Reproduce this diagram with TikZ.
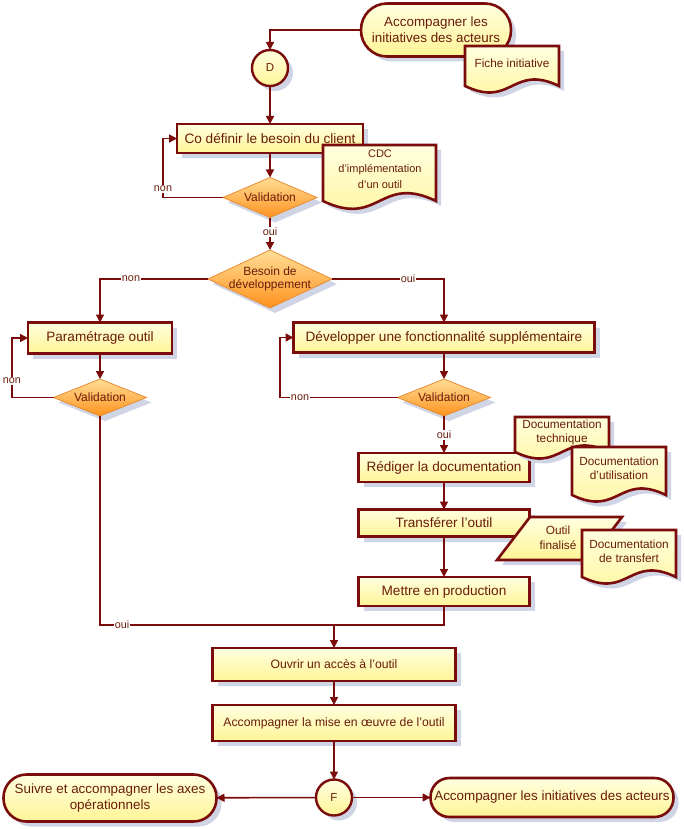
\documentclass[tikz,border=0pt]{standalone}
\usepackage{fontspec}
\setmainfont{Liberation Sans}
\usetikzlibrary{arrows.meta,shadows,shapes.geometric}
\definecolor{dred}{RGB}{122,12,12}
\definecolor{txt}{RGB}{105,28,10}
\definecolor{ytop}{RGB}{255,255,224}
\definecolor{ybot}{RGB}{255,244,150}
\definecolor{otop}{RGB}{255,222,150}
\definecolor{obot}{RGB}{255,146,30}
\definecolor{oline}{RGB}{232,140,50}
\definecolor{shad}{RGB}{208,213,230}
\newcommand\docshape[4]{%
  \path[docsty] (#1,#2) -- (#3,#2) -- (#3,#4) .. controls ({(#1+#3)/2},{#4-0.24*(#3-#1)}) and ({(#1+#3)/2},{#4+0.24*(#3-#1)}) .. (#1,#4) -- cycle;}
\tikzset{
  base/.style={text=txt, inner sep=0pt, outer sep=0pt},
  shd/.style={drop shadow={shadow xshift=5pt,shadow yshift=-5pt,fill=shad,opacity=1}},
  proc/.style={base, rectangle, draw=dred, line width=2.6pt, top color=ytop, bottom color=ybot, shd, font=\fontsize{13.6}{15}\selectfont},
  procs/.style={proc, font=\fontsize{12.2}{14}\selectfont},
  term/.style={proc, align=center, font=\fontsize{13.4}{16}\selectfont},
  conn/.style={proc, circle, line width=2.4pt, font=\fontsize{11.5}{13}\selectfont},
  dec/.style={base, diamond, draw=oline, line width=0.8pt, top color=otop, bottom color=obot, shd},
  dectxt/.style={base, align=center, font=\fontsize{12}{13.5}\selectfont},
  docsty/.style={draw=dred, line width=2.6pt, top color=ytop, bottom color=ybot, shd, line join=miter},
  doctxt/.style={base, align=center, font=\fontsize{11.8}{14}\selectfont},
  lnk/.style={draw=dred, line width=1.6pt},
  arr/.style={lnk, -{Triangle[length=8pt,width=8pt]}},
  lab/.style={base, fill=white, inner sep=1pt, font=\fontsize{10.8}{12}\selectfont},
}
\begin{document}
\begin{tikzpicture}[x=1pt,y=-1pt]
\fill[white] (0,0) rectangle (684,829);
\useasboundingbox (0,0) rectangle (684,829);

% top
\node[term, minimum width=150, minimum height=53, rounded corners=26pt] (T1) at (436,30) {Accompagner les\\initiatives des acteurs};
\docshape{465}{46}{559}{86}
\node[doctxt] (fiche) at (512,63) {Fiche initiative};
\node[conn, minimum size=36] (D) at (270,68) {D};
\node[proc, minimum width=186, minimum height=29] (B1) at (270,138.5) {Co définir le besoin du client};
\docshape{323}{145}{436}{201}
\node[doctxt, font=\fontsize{11}{15.5}\selectfont] (cdc) at (380,169) {CDC\\d’implémentation\\d’un outil};
\node[dec, minimum width=94, minimum height=40, label={[dectxt]center:Validation}] (V1) at (270,197.5) {};
\node[dec, minimum width=124, minimum height=58, label={[dectxt]center:{Besoin de\\développement}}] (V2) at (270,279) {};

% left branch
\node[proc, minimum width=144, minimum height=31] (P1) at (100,338) {Paramétrage outil};
\node[dec, minimum width=93, minimum height=37, label={[dectxt]center:Validation}] (V3) at (100,397.5) {};

% right branch
\node[proc, minimum width=301, minimum height=30] (P2) at (444,337.5) {Développer une fonctionnalité supplémentaire};
\node[dec, minimum width=93, minimum height=37, label={[dectxt]center:Validation}] (V4) at (444,397.5) {};
\node[proc, minimum width=171, minimum height=29] (R1) at (444,467.5) {Rédiger la documentation};
\docshape{515}{417}{609}{452}
\node[doctxt] (dtech) at (562,432) {Documentation\\technique};
\docshape{572}{447}{666}{495}
\node[doctxt] (dutil) at (619,468.5) {Documentation\\d’utilisation};
\node[proc, minimum width=171, minimum height=27] (R2) at (444,523) {Transférer l’outil};
\path[docsty] (530,517) -- (622,517) -- (589,560) -- (497,560) -- cycle;
\node[doctxt, font=\fontsize{11.8}{15}\selectfont] (ofin) at (558,537.5) {Outil\\finalisé};
\docshape{582}{530}{676}{577}
\node[doctxt] (dtrans) at (629,551.5) {Documentation\\de transfert};
\node[proc, minimum width=171, minimum height=29] (R3) at (444,591.5) {Mettre en production};

% bottom
\node[procs, minimum width=243, minimum height=33] (O1) at (334,664.5) {Ouvrir un accès à l’outil};
\node[procs, minimum width=243, minimum height=36] (A1) at (334,723) {Accompagner la mise en œuvre de l’outil};
\node[conn, minimum size=36] (F) at (334,797.5) {F};
\node[term, minimum width=213, minimum height=47, rounded corners=23pt] (Lt) at (110,798) {Suivre et accompagner les axes\\opérationnels};
\node[term, minimum width=243, minimum height=39, rounded corners=19pt] (Rt) at (552,797.5) {Accompagner les initiatives des acteurs};

% connectors
\coordinate (n1) at (163,0);
\coordinate (n3) at (12,0);
\coordinate (n4) at (280,0);
\coordinate (m) at (334,625);
\draw[arr] (T1.west) -| (D.north);
\draw[arr] (D) -- (B1);
\draw[arr] (B1) -- (V1);
\draw[arr] (V1.west) -- (V1.west -| n1) |- (B1.west);
\draw[arr] (V1.south) -- (V2.north);
\draw[arr] (V2.west) -| (P1.north);
\draw[arr] (V2.east) -| (P2.north);
\draw[arr] (P1) -- (V3);
\draw[arr] (V3.west) -- (V3.west -| n3) |- (P1.west);
\draw[arr] (P2) -- (V4);
\draw[arr] (V4.west) -- (V4.west -| n4) |- (P2.west);
\draw[arr] (V4.south) -- (R1.north);
\draw[arr] (R1) -- (R2);
\draw[arr] (R2) -- (R3);
\draw[lnk] (V3.south) |- (m);
\draw[lnk] (R3.south) |- (m);
\draw[arr] (m) -- (O1.north);
\draw[arr] (O1) -- (A1);
\draw[arr] (A1) -- (F);
\draw[arr] (F) -- (Lt);
\draw[arr] (F) -- (Rt);

% labels
\node[lab] (l1) at (163,189) {non};
\node[lab] (l2) at (270,232) {oui};
\node[lab] (l3) at (131,279) {non};
\node[lab] (l4) at (408,279) {oui};
\node[lab] (l5) at (12,381) {non};
\node[lab] (l6) at (300,397.5) {non};
\node[lab] (l7) at (444,435) {oui};
\node[lab] (l8) at (122,625) {oui};
\end{tikzpicture}
\end{document}
